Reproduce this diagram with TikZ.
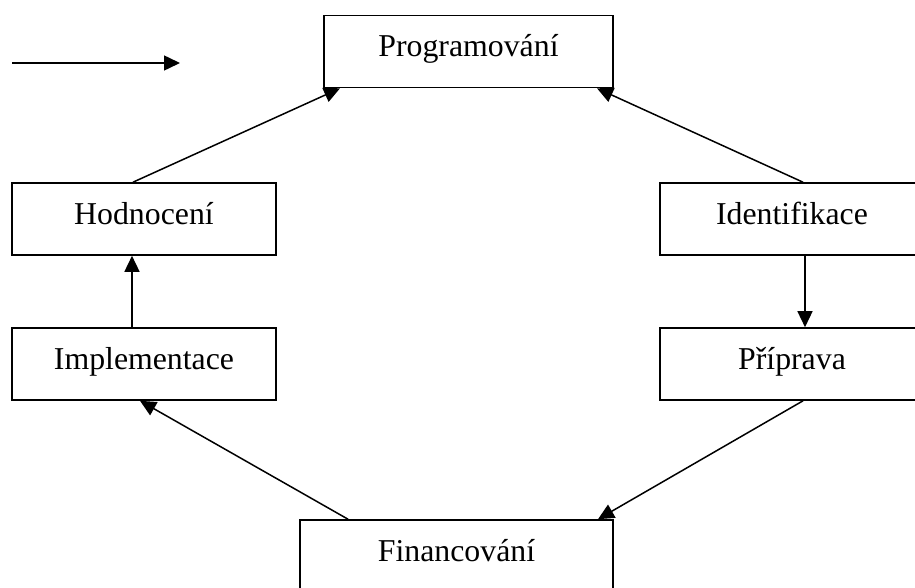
\documentclass[tikz,border=0pt]{standalone}
\usepackage{fontspec}
\setmainfont{Liberation Serif}
\usetikzlibrary{arrows.meta,calc}
\begin{document}
\begin{tikzpicture}[x=1pt,y=-1pt,
  box/.style={draw, line width=1.6pt, rectangle, inner sep=0pt,
    text height=41pt, text depth=31pt,
    font=\fontsize{31.8}{36}\selectfont},
  conn/.style={line width=1.5pt, -{Triangle[length=16pt,width=15pt]}}]
\clip (0,0) rectangle (915,588);
\node[box, minimum width=289pt] (prog) at (468.5,51.5) {Programování};
\node[box, minimum width=264pt] (hod) at (144,219) {Hodnocení};
\node[box, minimum width=264pt] (impl) at (144,364) {Implementace};
\node[box, minimum width=264pt] (ident) at (792,219) {Identifikace};
\node[box, minimum width=264pt] (prip) at (792,364) {Příprava};
\node[box, minimum width=313pt] (fin) at (456.5,556) {Financování};
\coordinate (a1) at (12,63);
\coordinate (a2) at (180,63);
\draw[conn] (a1) -- (a2);
\draw[conn] ([xshift=-11pt]hod.north) -- ([xshift=-128.5pt]prog.south);
\draw[conn] ([xshift=11pt]ident.north) -- ([xshift=128.5pt]prog.south);
\draw[conn] ([xshift=13pt]ident.south) -- ([xshift=13pt]prip.north);
\draw[conn] ([xshift=11pt]prip.south) -- ([xshift=141.5pt]fin.north);
\draw[conn] ([xshift=-108.5pt]fin.north) -- ([xshift=-4pt]impl.south);
\draw[conn] ([xshift=-12pt]impl.north) -- ([xshift=-12pt]hod.south);
\end{tikzpicture}
\end{document}
